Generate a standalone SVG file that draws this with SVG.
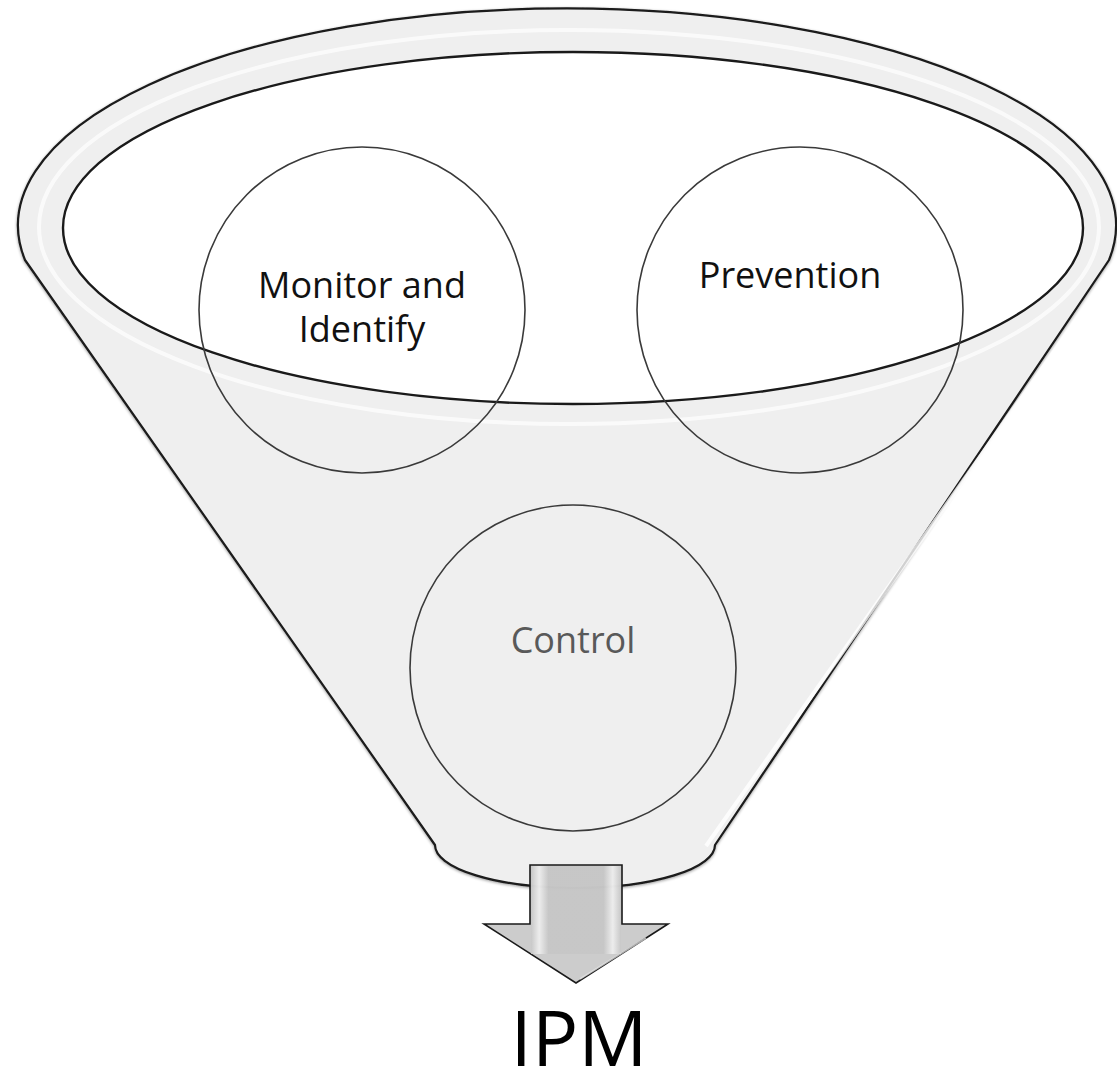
<svg xmlns="http://www.w3.org/2000/svg" width="1117" height="1075" viewBox="0 0 1117 1075">
  <defs>
    <style>
      .lbl { font-family: "Open Sans", "Liberation Sans", sans-serif; font-size: 36px; fill: #111; text-anchor: middle; }
      .ring { fill: none; stroke: #3a3a3a; stroke-width: 1.6; }
    </style>
    <linearGradient id="stemGrad" gradientUnits="userSpaceOnUse" x1="530" y1="0" x2="622" y2="0">
      <stop offset="0" stop-color="#c2c2c2"/>
      <stop offset="0.1" stop-color="#f2f2f2"/>
      <stop offset="0.2" stop-color="#c6c6c6"/>
      <stop offset="0.8" stop-color="#c6c6c6"/>
      <stop offset="0.9" stop-color="#f2f2f2"/>
      <stop offset="1" stop-color="#c2c2c2"/>
    </linearGradient>
    <filter id="soft" x="-5%" y="-5%" width="110%" height="110%">
      <feGaussianBlur in="SourceAlpha" stdDeviation="1.5"/>
      <feOffset dx="0" dy="1" result="b"/>
      <feComponentTransfer><feFuncA type="linear" slope="0.4"/></feComponentTransfer>
      <feMerge><feMergeNode/><feMergeNode in="SourceGraphic"/></feMerge>
    </filter>
  </defs>
  <rect width="1117" height="1075" fill="#ffffff"/>

  <g id="funnel">
    <path d="M 25 260 A 549 217 0 1 1 1109 260 L 715 845 A 140 43 0 0 1 435 845 Z" fill="#efefef" stroke="#1a1a1a" stroke-width="2.2" stroke-linejoin="round" filter="url(#soft)"/>
    <ellipse cx="569" cy="227" rx="530" ry="197" fill="none" stroke="#ffffff" stroke-width="4" stroke-opacity="0.7"/>
    <line x1="1096" y1="292" x2="706" y2="846" stroke="#ffffff" stroke-width="4" stroke-opacity="0.8"/>
    <ellipse cx="573" cy="228" rx="510" ry="176" fill="#ffffff" stroke="#1a1a1a" stroke-width="2.4"/>
  </g>

  <g id="node-monitor">
    <circle class="ring" cx="362" cy="310" r="163"/>
    <text class="lbl" x="362" y="298">Monitor and<tspan x="362" dy="44">Identify</tspan></text>
  </g>

  <g id="node-prevention">
    <circle class="ring" cx="800" cy="310" r="163"/>
    <text class="lbl" x="790" y="288">Prevention</text>
  </g>

  <g id="node-control">
    <circle class="ring" cx="573" cy="668" r="163"/>
    <text class="lbl" x="573" y="653" style="fill:#595959">Control</text>
  </g>

  <g id="connectors">
    <path d="M 530 865 H 622 V 924 H 668 L 576 983 L 484 924 H 530 Z" fill="#c6c6c6" fill-opacity="0.9" stroke="#1a1a1a" stroke-width="1.6" stroke-linejoin="miter"/>
    <rect x="531" y="866" width="90" height="88" fill="url(#stemGrad)" fill-opacity="0.85"/>
    <path d="M 580 979 L 646 938" stroke="#e8e8e8" stroke-width="2" stroke-opacity="0.7"/>
  </g>

  <g id="label-ipm">
    <text x="579" y="1066" style="font-family: 'Open Sans', 'Liberation Sans', sans-serif; font-size: 77px; fill: #000; text-anchor: middle;">IPM</text>
  </g>
</svg>
